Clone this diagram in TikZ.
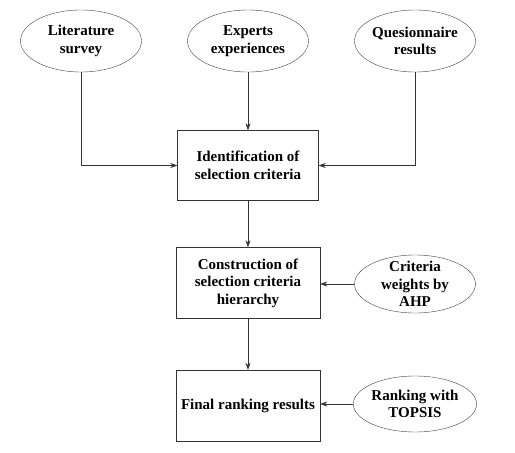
\documentclass[tikz,border=0pt]{standalone}
\usepackage{fontspec}
\setmainfont{Liberation Serif}
\usetikzlibrary{shapes.geometric, arrows.meta}
\begin{document}
\begin{tikzpicture}[x=1pt, y=-1pt,
    font=\bfseries\fontsize{15}{17.5}\selectfont,
    source/.style={draw=black!75, ellipse, align=center, inner xsep=0pt, inner ysep=-5pt, minimum width=121pt},
    stage/.style={draw=black!80, rectangle, align=center, minimum width=144pt, minimum height=71pt},
    flow/.style={-{Stealth[length=7pt, width=5pt]}, line width=0.6pt, draw=black!80}]
    \useasboundingbox (0,0) rectangle (515,453);
    \node[source, minimum height = 62pt] (lit) at (81,41) {Literature\\survey};
    \node[source, minimum height = 62pt] (exp) at (248,41) {Experts\\experiences};
    \node[source, minimum height = 62pt] (ques) at (415,41) {Quesionnaire\\results};
    \node[stage, minimum width = 141pt, minimum height = 70pt] (ident) at (248,165.5) {Identification of\\selection criteria};
    \node[stage] (constr) at (248,283) {Construction of\\selection criteria\\hierarchy};
    \node[source, minimum height = 58pt] (ahp) at (415,284) {Criteria\\weights by\\AHP};
    \node[stage] (final) at (248,405.5) {Final ranking results};
    \node[source, minimum height = 56pt] (topsis) at (415,404) {Ranking with\\TOPSIS};

    \draw[flow] (lit) |- (ident);
    \draw[flow] (exp) -- (ident);
    \draw[flow] (ques) |- (ident);
    \draw[flow] (ident) -- (constr);
    \draw[flow] (constr) -- (final);
    \draw[flow] (ahp) -- (ahp -| constr.east);
    \draw[flow] (topsis) -- (topsis -| final.east);
\end{tikzpicture}
\end{document}
